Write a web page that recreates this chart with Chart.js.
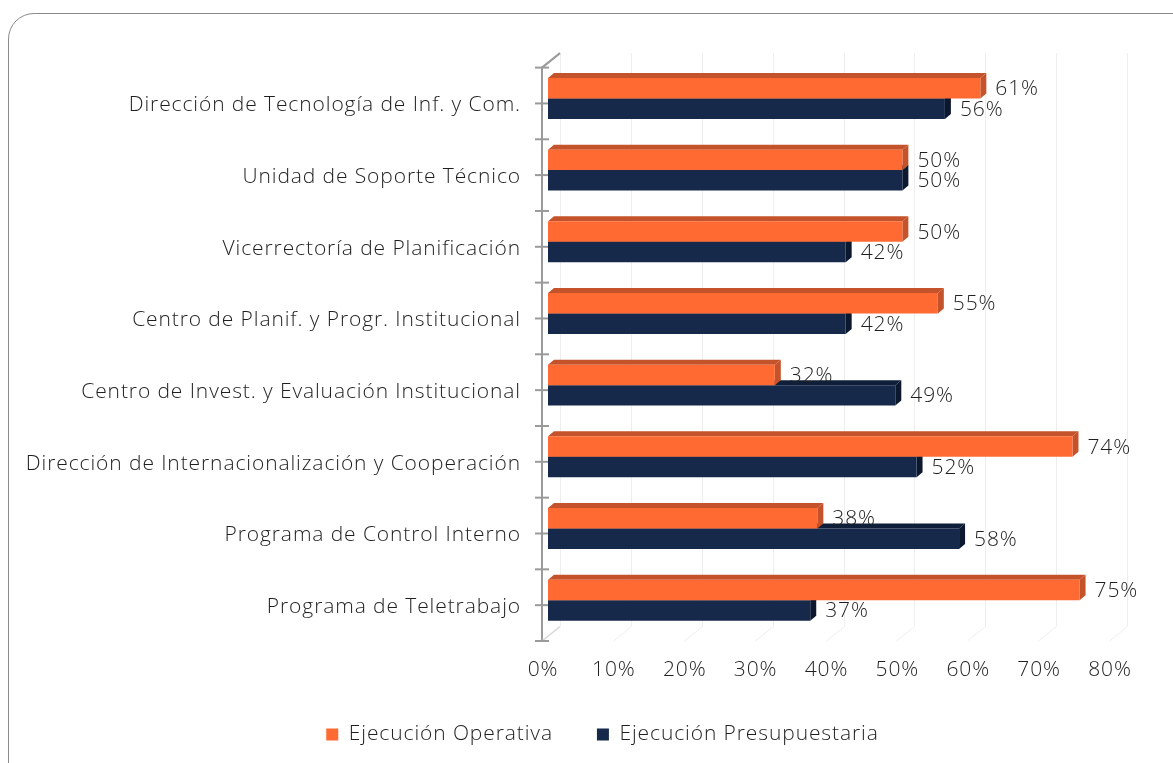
<!DOCTYPE html>
<html><head><meta charset="utf-8">
<script src="https://cdn.jsdelivr.net/npm/chart.js@4.4.0/dist/chart.umd.min.js"></script>
<style>
html,body{margin:0;padding:0;background:#fff;overflow:hidden;width:1173px;height:763px;}
#frame{position:absolute;left:8px;top:13px;width:1220px;height:820px;border:1.5px solid #8a8a8a;border-radius:26px;box-sizing:border-box;}
#c{position:absolute;left:0;top:0;}
</style></head><body>
<div id="frame"></div>
<canvas id="c" width="1173" height="763"></canvas>
<script>
const categories = [
  'Dirección de Tecnología de Inf. y Com.',
  'Unidad de Soporte Técnico',
  'Vicerrectoría de Planificación',
  'Centro de Planif. y Progr. Institucional',
  'Centro de Invest. y Evaluación Institucional',
  'Dirección de Internacionalización y Cooperación',
  'Programa de Control Interno',
  'Programa de Teletrabajo'
];
const operativa = [61, 50, 50, 55, 32, 74, 38, 75];
const presupuestaria = [56, 50, 42, 42, 49, 52, 58, 37];
const xTicks = [0, 10, 20, 30, 40, 50, 60, 70, 80];
const seriesNames = ['Ejecución Operativa', 'Ejecución Presupuestaria'];

const FONT = '"Open Sans"';
const WEIGHT = 300;
const FS = 21;
const SPACING = '0.9px';
const TXT = '#1f1f1f';
const DX = 6, DY = 5;
const LEGEND_SHIFT = 45;
const faceColors = [
  {top: '#C4522A', side: '#C4522A'},
  {top: '#0F1F3A', side: '#0C182E'}
];

const spacingPlugin = {
  id: 'spacing',
  beforeInit(chart) { chart.ctx.letterSpacing = SPACING; },
  beforeUpdate(chart) { chart.ctx.letterSpacing = SPACING; },
  beforeDraw(chart) { chart.ctx.letterSpacing = SPACING; },
  afterLayout(chart) {
    const lg = chart.legend;
    if (lg) { lg.left += LEGEND_SHIFT; lg.right += LEGEND_SHIFT; }
  }
};

const threeD = {
  id: 'threeD',
  beforeDatasetsDraw(chart) {
    const ctx = chart.ctx, ca = chart.chartArea, xs = chart.scales.x, ys = chart.scales.y;
    ctx.save();
    ctx.strokeStyle = '#eeeeee'; ctx.lineWidth = 1;
    xTicks.forEach(v => {
      const px = Math.round(xs.getPixelForValue(v)) + 0.5;
      ctx.beginPath();
      ctx.moveTo(px + 12, ca.top - 9.5);
      ctx.lineTo(px + 12, ca.bottom - 9.5);
      ctx.lineTo(px - 6, ca.bottom + 5);
      ctx.stroke();
    });
    ctx.strokeStyle = '#9a9a9a'; ctx.lineWidth = 2;
    const ax = ca.left - 6;
    ctx.beginPath();
    ctx.moveTo(ax + 18, ca.top - 9.5);
    ctx.lineTo(ax, ca.top + 5);
    ctx.lineTo(ax, ca.bottom + 5);
    ctx.stroke();
    ctx.strokeStyle = '#d8d8d8'; ctx.lineWidth = 1.5;
    ctx.beginPath();
    ctx.moveTo(ax, ca.bottom + 5);
    ctx.lineTo(ax + 18, ca.bottom - 9.5);
    ctx.stroke();
    ctx.strokeStyle = '#9a9a9a'; ctx.lineWidth = 2;
    for (let i = -0.5; i <= categories.length - 0.5; i += 0.5) {
      const py = ys.getPixelForValue(i) + 5;
      ctx.beginPath();
      ctx.moveTo(ca.left - 13, py);
      ctx.lineTo(ca.left + 1, py);
      ctx.stroke();
    }
    [1, 0].forEach(di => {
      const meta = chart.getDatasetMeta(di);
      meta.data.forEach(el => {
        const p = el.getProps(['x', 'y', 'base', 'height'], true);
        const top = p.y - p.height / 2, bot = p.y + p.height / 2;
        ctx.fillStyle = faceColors[di].top;
        ctx.beginPath();
        ctx.moveTo(p.base, top); ctx.lineTo(p.x, top);
        ctx.lineTo(p.x + DX, top - DY); ctx.lineTo(p.base + DX, top - DY);
        ctx.closePath(); ctx.fill();
        ctx.fillStyle = faceColors[di].side;
        ctx.beginPath();
        ctx.moveTo(p.x, top); ctx.lineTo(p.x + DX, top - DY);
        ctx.lineTo(p.x + DX, bot - DY); ctx.lineTo(p.x, bot);
        ctx.closePath(); ctx.fill();
      });
    });
    ctx.restore();
  },
  afterDatasetsDraw(chart) {
    const ctx = chart.ctx;
    ctx.save();
    ctx.font = WEIGHT + ' ' + FS + 'px ' + FONT;
    ctx.letterSpacing = SPACING;
    ctx.fillStyle = TXT;
    ctx.textAlign = 'left';
    ctx.textBaseline = 'middle';
    [0, 1].forEach(di => {
      const meta = chart.getDatasetMeta(di);
      const vals = chart.data.datasets[di].data;
      meta.data.forEach((el, i) => {
        const p = el.getProps(['x', 'y'], true);
        ctx.fillText(vals[i] + '%', p.x + 15, p.y + 1);
      });
    });
    ctx.restore();
  }
};

const font = {family: FONT, size: FS, weight: WEIGHT};

new Chart(document.getElementById('c'), {
  type: 'bar',
  data: {
    labels: categories,
    datasets: [
      {label: seriesNames[0], data: operativa, backgroundColor: '#FF6A33', borderWidth: 0,
       barPercentage: 1, categoryPercentage: 0.571},
      {label: seriesNames[1], data: presupuestaria, backgroundColor: '#16294B', borderWidth: 0,
       barPercentage: 1, categoryPercentage: 0.571}
    ]
  },
  options: {
    indexAxis: 'y',
    responsive: false,
    devicePixelRatio: 1,
    animation: false,
    layout: {padding: {top: 62.6, right: 58, left: 0, bottom: 8}},
    scales: {
      x: {
        min: 0, max: 80,
        afterBuildTicks: s => { s.ticks = xTicks.map(v => ({value: v})); },
        afterFit: s => { s.height = 44; },
        grid: {display: false, drawTicks: false},
        border: {display: false},
        ticks: {
          callback: v => v + '%',
          font: font,
          color: TXT,
          padding: 21,
          labelOffset: -5,
          maxRotation: 0
        }
      },
      y: {
        afterFit: s => { s.width = 548; },
        grid: {display: false, drawTicks: false},
        border: {display: false},
        ticks: {
          font: font,
          color: TXT,
          padding: 27,
          labelOffset: 7,
          autoSkip: false
        }
      }
    },
    plugins: {
      legend: {
        position: 'bottom',
        labels: {
          boxWidth: 12, boxHeight: 12,
          font: font,
          color: TXT,
          padding: 44
        }
      },
      tooltip: {enabled: false}
    }
  },
  plugins: [spacingPlugin, threeD]
});
</script>
</body></html>
